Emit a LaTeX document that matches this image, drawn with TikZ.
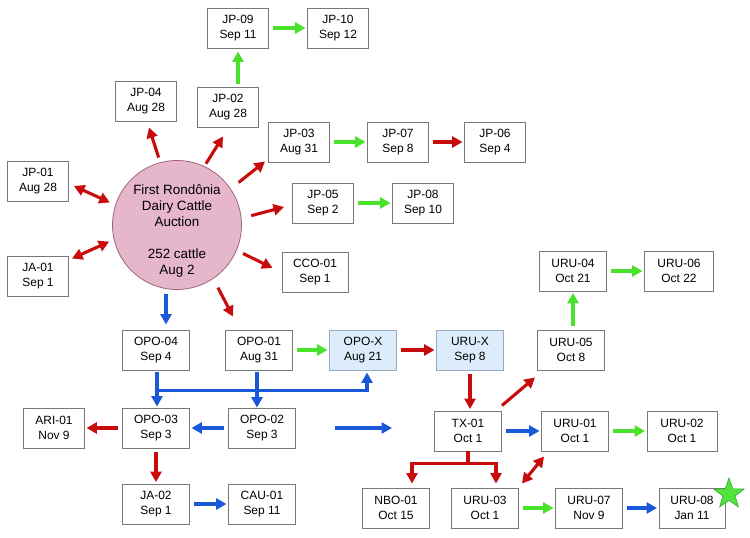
\documentclass[tikz,border=0pt]{standalone}
\usepackage{fontspec}
\setmainfont{Liberation Sans}
\usetikzlibrary{arrows.meta,calc,shapes.geometric}
\definecolor{ar}{RGB}{200,12,12}
\definecolor{ag}{RGB}{72,226,42}
\definecolor{ab}{RGB}{26,88,218}
\definecolor{boxgray}{RGB}{120,120,120}
\definecolor{xfill}{RGB}{221,236,250}
\definecolor{xdraw}{RGB}{150,170,195}
\definecolor{cfill}{RGB}{230,182,202}
\definecolor{cdraw}{RGB}{160,100,125}
\definecolor{sg}{RGB}{80,228,60}
\definecolor{sgd}{RGB}{50,170,40}
\begin{document}
\begin{tikzpicture}[x=1bp,y=-1bp,
  box/.style={draw=boxgray, line width=0.9bp, fill=white, minimum width=67bp, minimum height=40bp, inner sep=0pt, align=center, font=\fontsize{12}{14.5}\selectfont},
  nbox/.style={box, minimum width=61bp},
  xbox/.style={box, fill=xfill, draw=xdraw},
  arr/.style={line width=3.1bp, -{Triangle[length=10.5bp,width=11bp]}},
  darr/.style={line width=3.1bp, {Triangle[length=10.5bp,width=11bp]}-{Triangle[length=10.5bp,width=11bp]}},
  ra/.style={arr, draw=ar}, ga/.style={arr, draw=ag}, ba/.style={arr, draw=ab},
  rd/.style={darr, draw=ar},
  gap/.style={shorten <=4bp, shorten >=1.5bp}]
\useasboundingbox (0,0) rectangle (750,538);

% nodes
\node[nbox] (jp09) at (238,28) {JP-09\\Sep 11};
\node[nbox] (jp10) at (338,28) {JP-10\\Sep 12};
\node[nbox] (jp04) at (146,101) {JP-04\\Aug 28};
\node[nbox] (jp02) at (228,107) {JP-02\\Aug 28};
\node[nbox] (jp03) at (299,142) {JP-03\\Aug 31};
\node[nbox] (jp07) at (398,142) {JP-07\\Sep 8};
\node[nbox] (jp06) at (495,142) {JP-06\\Sep 4};
\node[nbox] (jp01) at (38,181) {JP-01\\Aug 28};
\node[nbox] (jp05) at (323,203) {JP-05\\Sep 2};
\node[nbox] (jp08) at (423,203) {JP-08\\Sep 10};
\node[nbox] (ja01) at (38,276) {JA-01\\Sep 1};
\node[box, minimum width=66bp] (cco01) at (315,272) {CCO-01\\Sep 1};
\node[box] (uru04) at (573,271) {URU-04\\Oct 21};
\node[box, minimum width=69bp] (uru06) at (679,271) {URU-06\\Oct 22};
\node[box] (opo04) at (156,350) {OPO-04\\Sep 4};
\node[box] (opo01) at (259,350) {OPO-01\\Aug 31};
\node[xbox] (opox) at (363,350) {OPO-X\\Aug 21};
\node[xbox] (urux) at (470,350) {URU-X\\Sep 8};
\node[box] (uru05) at (571,350) {URU-05\\Oct 8};
\node[nbox] (ari01) at (54,428) {ARI-01\\Nov 9};
\node[box] (opo03) at (156,428) {OPO-03\\Sep 3};
\node[box] (opo02) at (262,428) {OPO-02\\Sep 3};
\node[box] (tx01) at (468,431) {TX-01\\Oct 1};
\node[box] (uru01) at (575,431) {URU-01\\Oct 1};
\node[box, minimum width=70bp] (uru02) at (682,431) {URU-02\\Oct 1};
\node[box] (ja02) at (156,504) {JA-02\\Sep 1};
\node[box] (cau01) at (262,504) {CAU-01\\Sep 11};
\node[box] (nbo01) at (396,508) {NBO-01\\Oct 15};
\node[box] (uru03) at (485,508) {URU-03\\Oct 1};
\node[box] (uru07) at (589,508) {URU-07\\Nov 9};
\node[box, minimum width=66bp] (uru08) at (692,508) {URU-08\\Jan 11};

\node[circle, draw=cdraw, fill=cfill, line width=0.8bp, minimum size=129bp, inner sep=0pt] (c) at (177,225) {};
\node[align=center, font=\fontsize{13.5}{16}\selectfont, inner sep=0pt] (ct) at (177,231) {First Rondônia\\Dairy Cattle\\Auction\\[16bp]252 cattle\\Aug 2};

\node[star, star points=5, star point ratio=2.5, minimum size=32bp, inner sep=0pt, fill=sg, draw=sgd, line width=0.6bp] (star) at (729,494) {};

% radial arrows
\draw[rd, shorten >=6bp] ($(jp01.east)+(5,5)$) -- (c.162);
\draw[rd, shorten >=5bp] ($(ja01.north east)+(3,3)$) -- (c.193);
\draw[ra, shorten <=5bp] (c.105) -- ($(jp04.south)+(3,6)$);
\draw[ra, shorten <=3bp] (c.65) -- ($(jp02.south)+(-5,9)$);
\draw[ra, shorten <=10bp] (c.34) -- ($(jp03.south west)+(-3,-1)$);
\draw[ra, shorten <=10bp] (c.6) -- ($(jp05.west)+(-8,4)$);
\draw[ra, shorten <=7bp] (c.-23) -- ($(cco01.west)+(-9,-4)$);
\draw[ra, shorten <=10bp] (c.-56) -- ($(opo01.north)+(-26,-13)$);
\draw[ba] ($(c.south)+(-11,4)$) -- ($(opo04.north)+(10,-5)$);

% upper chains
\draw[ga] ($(jp02.north)+(10,-3)$) -- ($(jp09.south)+(0,3)$);
\draw[ga, gap] (jp09) -- (jp10);
\draw[ga, gap] (jp03) -- (jp07);
\draw[ra, gap] (jp07) -- (jp06);
\draw[ga, gap] (jp05) -- (jp08);

% middle
\draw[ga, gap] (opo01) -- (opox);
\draw[ra, gap] (opox) -- (urux);
\draw[ra, gap] (urux.south) -- (urux.south |- tx01.north);
\draw[ra] ($(tx01.north east)+(0,-5)$) -- ($(uru05.south west)+(-2,7)$);
\draw[ga, gap] (uru05.north -| uru04) -- (uru04.south);
\draw[ga, gap] (uru04) -- (uru06);
\draw[ba, gap] (tx01) -- (uru01);
\draw[ga, gap] (uru01) -- (uru02);
\draw[rd] ($(uru01.south west)+(3,5)$) -- ($(uru03.north east)+(3,-4)$);

% TX-01 tree
\draw[line width=3.1bp, draw=ar] (tx01.south) -- ++(0,12) coordinate (tb);
\draw[ra] (tb) -| ($(nbo01.north)+(16,-4)$);
\draw[ra] (tb) -| ($(uru03.north)+(11,-4)$);

\draw[ga, gap] (uru03) -- (uru07);
\draw[ba, gap] (uru07) -- (uru08);

% left lower
\draw[ba, gap] (opo02) -- (opo03);
\draw[ra, gap] (opo03) -- (ari01);
\draw[ra, gap] (opo03) -- (ja02);
\draw[ba, gap] (ja02) -- (cau01);

% blue bracket
\draw[ba] ($(opo04.south)+(1,2)$) -- ($(opo03.north)+(1,-1)$);
\draw[ba] ($(opo04.south)+(-0.5,20)$) -| ($(opox.south)+(4,2)$);
\coordinate (o1s) at ($(opo01.south)+(-2,2)$);
\draw[ba] (o1s) -- (o1s |- opo02.north);

% free arrow
\coordinate (fa) at (335,428);
\coordinate (fb) at (392,428);
\draw[ba] (fa) -- (fb);
\end{tikzpicture}
\end{document}
